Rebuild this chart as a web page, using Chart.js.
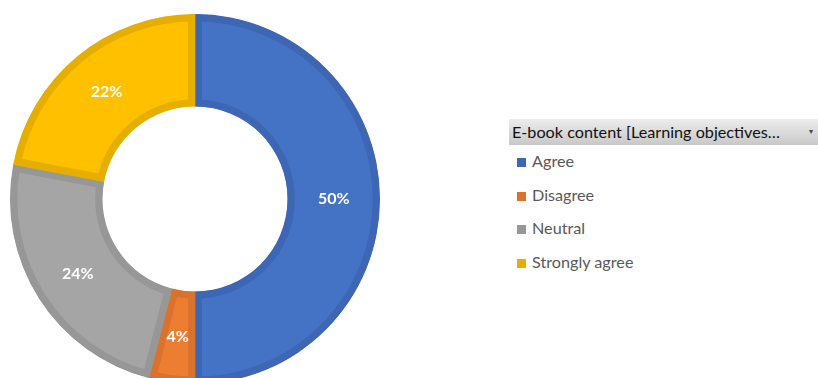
<!DOCTYPE html>
<html>
<head>
<meta charset="utf-8">
<script src="https://cdn.jsdelivr.net/npm/chart.js@4/dist/chart.umd.min.js"></script>
<style>
  html, body { margin: 0; padding: 0; background: #fff; width: 818px; height: 378px; overflow: hidden; position: relative; }
  #wrap { position: absolute; left: 10px; top: 14px; width: 370px; height: 370px; }
  #legend { position: absolute; left: 509px; top: 119px; width: 309px; font-family: Lato, "Open Sans", sans-serif; }
  #legend .head {
    height: 26px; line-height: 26px; padding-left: 3px; box-sizing: border-box;
    background: linear-gradient(#ededed, #c8c8c8);
    color: #111; font-size: 16.2px; white-space: nowrap; position: relative;
  }
  #legend .head .arrow { position: absolute; right: 5px; top: -1px; font-size: 8px; color: #444; }
  #legend .item { position: relative; height: 33.7px; color: #595959; font-size: 16.2px; }
  #legend .item .box { position: absolute; left: 8px; top: 13px; width: 9px; height: 9px; }
  #legend .item .txt { position: absolute; left: 23px; top: 6px; white-space: nowrap; }
</style>
</head>
<body>
<div id="wrap"><canvas id="c" width="370" height="370"></canvas></div>
<div id="legend"></div>
<script>
const legendTitle = 'E-book content [Learning objectives\u2026';
const categories = ['Agree', 'Disagree', 'Neutral', 'Strongly agree'];
const percentages = [50, 4, 24, 22];
const fillColors = ['#4472C4', '#ED7D31', '#A5A5A5', '#FFC000'];
const edgeColors = ['#3D67B4', '#D9722C', '#979797', '#E6AE00'];

// Legend panel on the right
const legend = document.getElementById('legend');
const head = document.createElement('div');
head.className = 'head';
head.textContent = legendTitle;
const arrow = document.createElement('span');
arrow.className = 'arrow';
arrow.textContent = '\u25BE';
head.appendChild(arrow);
legend.appendChild(head);
categories.forEach((name, i) => {
  const row = document.createElement('div');
  row.className = 'item';
  const box = document.createElement('span');
  box.className = 'box';
  box.style.background = edgeColors[i];
  const txt = document.createElement('span');
  txt.className = 'txt';
  txt.textContent = name;
  row.appendChild(box);
  row.appendChild(txt);
  legend.appendChild(row);
});

// Percent labels placed at the centre of each ring segment
const sliceLabels = {
  id: 'sliceLabels',
  afterDatasetsDraw(chart) {
    const ctx = chart.ctx;
    const meta = chart.getDatasetMeta(0);
    ctx.save();
    ctx.font = 'bold 16px Lato, "Open Sans", sans-serif';
    ctx.fillStyle = '#ffffff';
    ctx.textAlign = 'center';
    ctx.textBaseline = 'middle';
    meta.data.forEach((arc, i) => {
      const p = arc.getCenterPoint();
      ctx.fillText(percentages[i] + '%', p.x, p.y);
    });
    ctx.restore();
  }
};

new Chart(document.getElementById('c'), {
  type: 'doughnut',
  data: {
    labels: categories,
    datasets: [{
      data: percentages,
      backgroundColor: fillColors,
      borderColor: edgeColors,
      borderWidth: 7,
      borderAlign: 'inner',
      hoverOffset: 0
    }]
  },
  options: {
    responsive: false,
    animation: false,
    cutout: '50%',
    layout: { padding: 0 },
    plugins: {
      legend: { display: false },
      tooltip: { enabled: false }
    }
  },
  plugins: [sliceLabels]
});
</script>
</body>
</html>
